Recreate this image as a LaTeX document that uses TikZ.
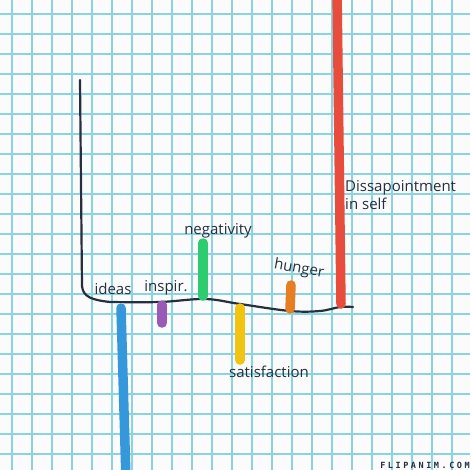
\documentclass[tikz,border=0pt]{standalone}
\usepackage{fontspec}
\setmainfont{Open Sans}
\newfontfamily\wmfont[LetterSpace=30]{DejaVu Sans Mono Bold}
\usepackage{xcolor}
\usetikzlibrary{positioning}
\definecolor{paper}{HTML}{FBFBFB}
\definecolor{gridcyan}{HTML}{8AD4E2}
\definecolor{ink}{HTML}{24303F}
\definecolor{barblue}{HTML}{3498DB}
\definecolor{barpurple}{HTML}{9B59B6}
\definecolor{bargreen}{HTML}{2ECC71}
\definecolor{baryellow}{HTML}{F1C40F}
\definecolor{barorange}{HTML}{E67E22}
\definecolor{barred}{HTML}{E74C3C}

\begin{document}
\begin{tikzpicture}[x=1pt,y=-1pt,
  axis/.style={ink,line width=2.2pt,line cap=round,line join=round},
  bar/.style={line width=9.5pt,line cap=round},
  note/.style={font=\fontsize{15}{18}\selectfont,text=ink,inner sep=0pt}]
% paper
\fill[paper] (0,0) rectangle (470,470);
\useasboundingbox (0,0) rectangle (470,470);
\foreach \i in {0,...,22} {
  \draw[gridcyan,line width=2pt] (12+20*\i,0) -- (12+20*\i,470);
  \draw[gridcyan,line width=2pt] (0,14+20*\i) -- (470,14+20*\i);
}
% axes
\draw[axis] (80,80) -- (82,286) .. controls (83,297) and (92,300) .. (110,302)
  -- plot[smooth,tension=.6] coordinates {(110,302) (160,302) (205,299) (240,304) (290,311) (320,311) (340,307) (353,307)};
% bars
\draw[bar,barblue] (121,308) -- (126,480);
\draw[bar,barpurple] (162,305) -- (162,323);
\draw[bar,bargreen] (203,243) -- (203,296);
\draw[bar,baryellow] (240,308) -- (240,360);
\draw[bar,barorange] (291,285) -- (290,309);
\draw[bar,barred] (337,-10) -- (341,304);
% labels
\node[note] (ideas) at (113,289) {ideas};
\node[note] (inspir) at (166,288) {inspir.};
\node[note] (neg) at (218,231) {negativity};
\node[note,rotate=-10] (hunger) at (299,269) {hunger};
\node[note] (satis) at (269,372) {satisfaction};
\node[note,align=left,anchor=north west] (disap) at (345,180) {Dissapointment\\in self};
\node[font=\wmfont\fontsize{8.5}{8.5}\selectfont,text=ink,inner sep=0pt] (brand) at (425,465) {FLIPANIM.COM};
\end{tikzpicture}
\end{document}
